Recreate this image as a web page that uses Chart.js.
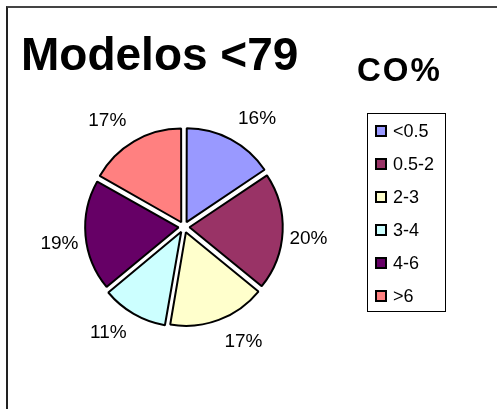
<!DOCTYPE html>
<html>
<head>
<meta charset="utf-8">
<script src="https://cdn.jsdelivr.net/npm/chart.js@4/dist/chart.umd.min.js"></script>
<style>
  html, body { margin: 0; padding: 0; background: #fff; }
  body { width: 497px; height: 409px; position: relative; overflow: hidden;
         font-family: "Liberation Sans", Arial, sans-serif; color: #000; }
  #frame { position: absolute; left: 6px; top: 6px; width: 520px; height: 440px;
           border-left: 2px solid #222; border-top: 2px solid #444; }
  #chartBox { position: absolute; left: 0; top: 0; width: 497px; height: 409px; }
  .title { position: absolute; font-weight: bold; line-height: 1; white-space: nowrap; }
  #title { left: 21px; top: 31px; font-size: 46px; }
  #subtitle { left: 357px; top: 53px; font-size: 33px; letter-spacing: 2px; }
  #legend { position: absolute; left: 367px; top: 113px; width: 79px; height: 199px;
            border: 1px solid #000; box-sizing: border-box; }
  .item { position: absolute; left: 7px; height: 20px; display: flex; align-items: center;
          font-size: 18px; }
  .swatch { width: 8px; height: 8px; border: 2px solid #000; margin-right: 6px; }
</style>
</head>
<body>
<div id="frame"></div>
<div id="chartBox"><canvas id="pieChart" width="497" height="409"></canvas></div>
<div class="title" id="title">Modelos &lt;79</div>
<div class="title" id="subtitle">CO%</div>
<div id="legend"></div>

<script>
// categories and values (share of models, %)
var categories = ['<0.5', '0.5-2', '2-3', '3-4', '4-6', '>6'];
var shares     = [15.6, 20.3, 16.8, 11.3, 19.2, 16.8];
var colors     = ['#9999FF', '#993366', '#FFFFCC', '#CCFFFF', '#660066', '#FF8080'];

// legend
var legend = document.getElementById('legend');
categories.forEach(function (c, i) {
  var row = document.createElement('div');
  row.className = 'item';
  row.style.top = (7 + i * 33) + 'px';
  var sw = document.createElement('span');
  sw.className = 'swatch';
  sw.style.background = colors[i];
  row.appendChild(sw);
  row.appendChild(document.createTextNode(c));
  legend.appendChild(row);
});

// percent labels outside the slices (box corner sits near the rim)
var outsideLabels = {
  id: 'outsideLabels',
  afterDatasetsDraw: function (chart) {
    var ctx = chart.ctx;
    var meta = chart.getDatasetMeta(0);
    var data = chart.data.datasets[0].data;
    var total = data.reduce(function (a, b) { return a + b; }, 0);
    ctx.save();
    ctx.font = '19px "Liberation Sans", Arial, sans-serif';
    ctx.fillStyle = '#000';
    ctx.textAlign = 'center';
    ctx.textBaseline = 'middle';
    meta.data.forEach(function (arc, i) {
      var p = arc.getProps(['x', 'y', 'startAngle', 'endAngle', 'outerRadius']);
      var mid = (p.startAngle + p.endAngle) / 2;
      var cx = Math.cos(mid), cy = Math.sin(mid);
      var txt = Math.round(data[i] / total * 100) + '%';
      var w = ctx.measureText(txt).width;
      var d = p.outerRadius + 12 + 11 * Math.abs(cy);
      var x = p.x + cx * d + Math.sign(cx) * w / 2;
      var y = p.y + cy * d + Math.sign(cy) * 7;
      ctx.fillText(txt, x, y);
    });
    ctx.restore();
  }
};

var pieCanvas = document.getElementById('pieChart').getContext('2d');
var pieChart = new Chart(pieCanvas, {
  type: 'pie',
  data: {
    labels: categories,
    datasets: [{
      data: shares,
      backgroundColor: colors,
      borderColor: '#000',
      borderWidth: 2,
      // arc offset is drawn at 1/4 of this value
      offset: 22,
      hoverOffset: 22
    }]
  },
  options: {
    responsive: false,
    animation: false,
    radius: 93,
    layout: { padding: { left: 64, right: 193, top: 107, bottom: 62 } },
    plugins: {
      legend: { display: false },
      title: { display: false },
      tooltip: { enabled: false }
    },
    events: []
  },
  plugins: [outsideLabels]
});
</script>
</body>
</html>
